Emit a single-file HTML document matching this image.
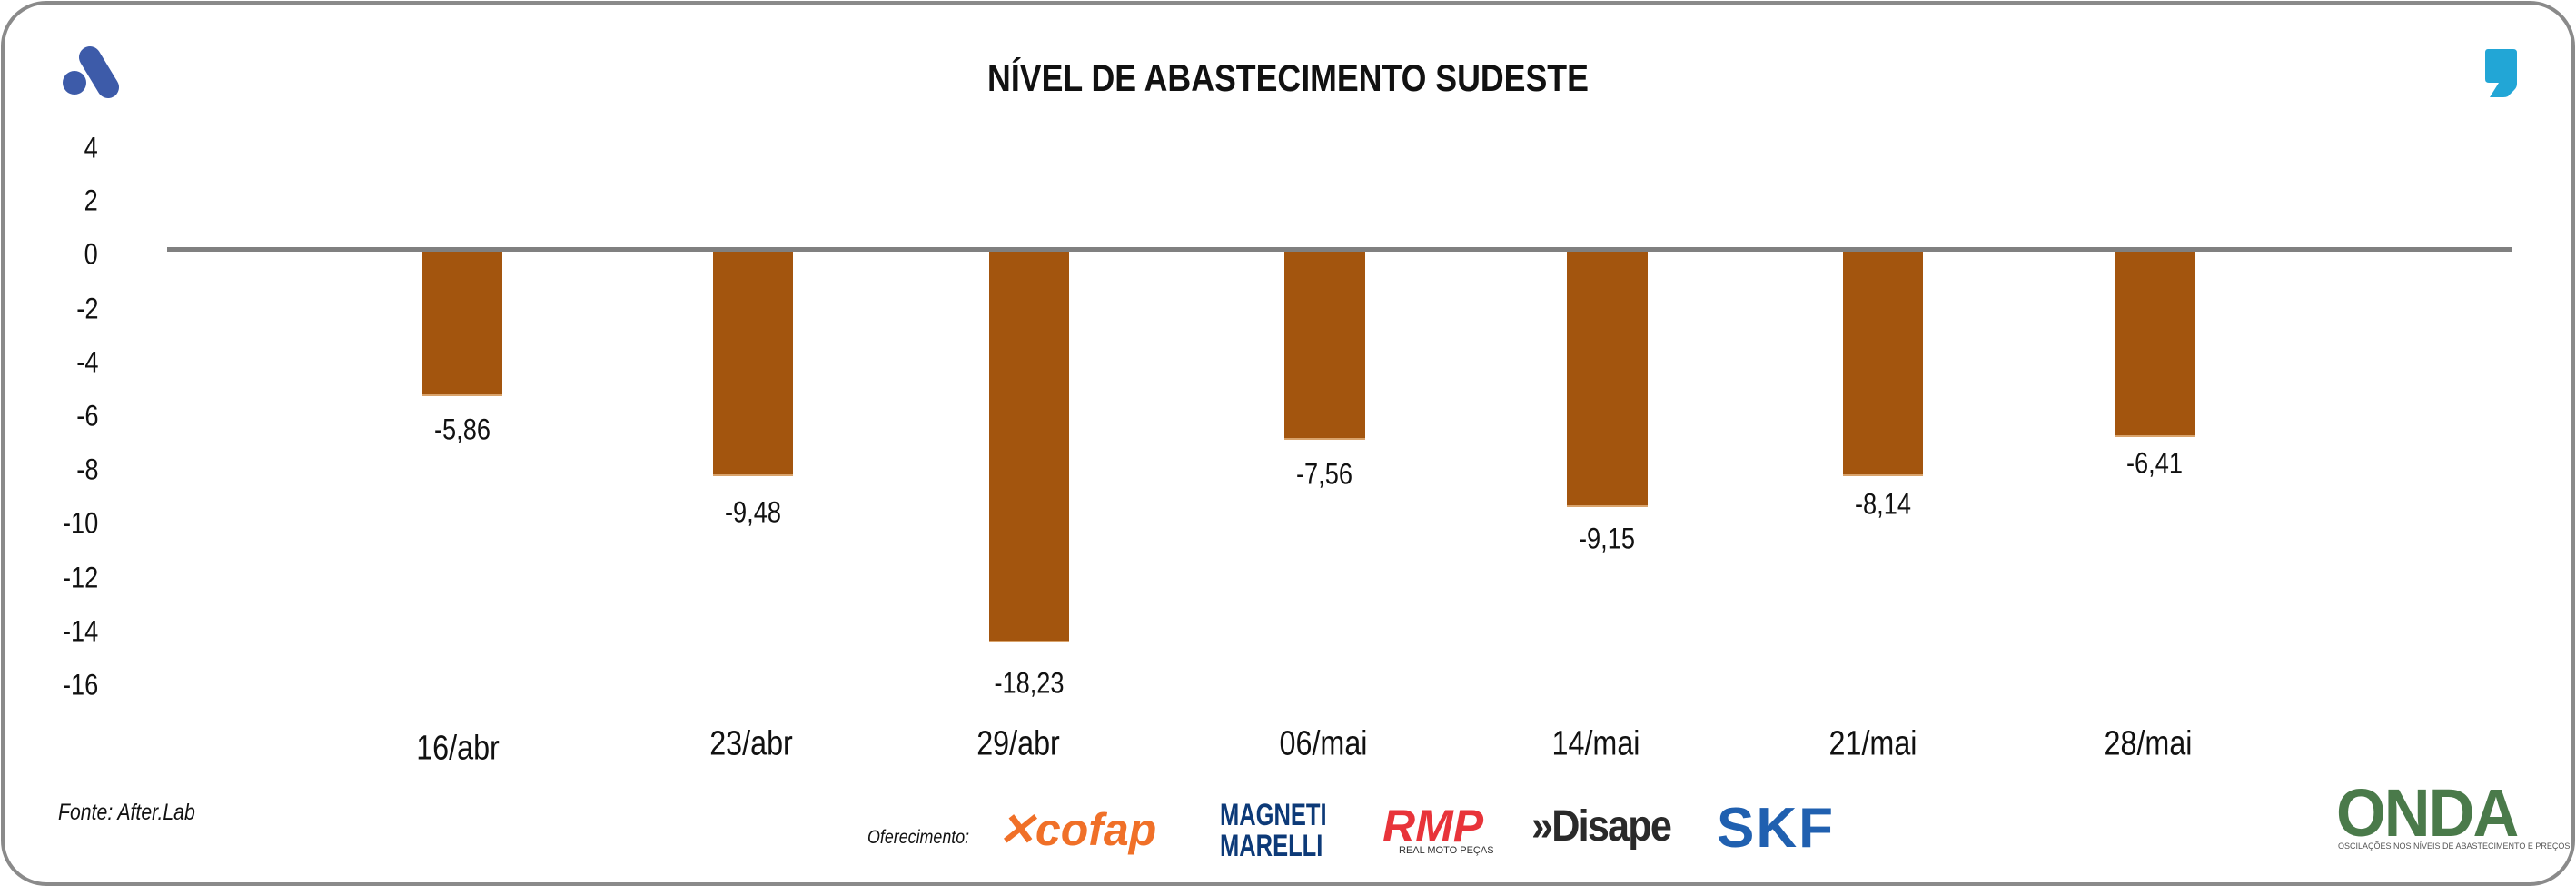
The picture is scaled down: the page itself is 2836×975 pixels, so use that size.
<!DOCTYPE html>
<html><head><meta charset="utf-8"><style>
html,body{margin:0;padding:0;background:#fff}
body{width:2836px;height:974px;position:relative;overflow:hidden;font-family:"Liberation Sans",sans-serif}
.frame{position:absolute;left:1px;top:1px;width:2826px;height:966px;border:4px solid #8a8a8a;border-radius:50px;box-sizing:content-box}
.t{position:absolute;white-space:nowrap;color:#111}
.yt{position:absolute;right:2728px;font-size:32px;transform:translateY(-50%) scaleX(0.85);transform-origin:right center;color:#111}
.xl{position:absolute;font-size:38px;transform:translate(-50%,-50%) scaleX(0.85);color:#111}
.dl{position:absolute;font-size:32px;transform:translate(-50%,-50%) scaleX(0.85);color:#111}
.bar{position:absolute;top:277px;background:#a3550e;border-bottom:2px solid #d9a36b}
</style></head><body>
<div class="frame"></div>
<svg style="position:absolute;left:0;top:0" width="2836" height="974">
<circle cx="82" cy="91" r="13" fill="#3d5ba9"/>
<line x1="99" y1="63" x2="119" y2="96" stroke="#3d5ba9" stroke-width="24" stroke-linecap="round"/>
<path d="M2739 54 H2767 Q2771 54 2771 58 V92 Q2771 96 2768 99 L2761 106 Q2759 107 2756 107 H2741 L2751 91 H2740 Q2736 91 2736 87 V58 Q2736 54 2739 54Z" fill="#22a6d6"/>
<rect x="184" y="272" width="2582" height="5" fill="#808080"/>
</svg>
<div class="t" style="left:0;width:2836px;text-align:center;top:62px;font-size:42px;font-weight:bold;transform:scaleX(0.85)">NÍVEL DE ABASTECIMENTO SUDESTE</div>
<div class="yt" style="top:163px">4</div>
<div class="yt" style="top:221px">2</div>
<div class="yt" style="top:280px">0</div>
<div class="yt" style="top:340px">-2</div>
<div class="yt" style="top:399px">-4</div>
<div class="yt" style="top:458px">-6</div>
<div class="yt" style="top:517px">-8</div>
<div class="yt" style="top:576px">-10</div>
<div class="yt" style="top:636px">-12</div>
<div class="yt" style="top:695px">-14</div>
<div class="yt" style="top:754px">-16</div>
<div class="bar" style="left:465px;width:88px;height:157px"></div>
<div class="bar" style="left:785px;width:88px;height:245px"></div>
<div class="bar" style="left:1089px;width:88px;height:428px"></div>
<div class="bar" style="left:1414px;width:89px;height:205px"></div>
<div class="bar" style="left:1725px;width:89px;height:279px"></div>
<div class="bar" style="left:2029px;width:88px;height:245px"></div>
<div class="bar" style="left:2328px;width:88px;height:202px"></div>
<div class="dl" style="left:509px;top:473px">-5,86</div>
<div class="dl" style="left:829px;top:564px">-9,48</div>
<div class="dl" style="left:1133px;top:752px">-18,23</div>
<div class="dl" style="left:1458px;top:522px">-7,56</div>
<div class="dl" style="left:1769px;top:593px">-9,15</div>
<div class="dl" style="left:2073px;top:555px">-8,14</div>
<div class="dl" style="left:2372px;top:510px">-6,41</div>
<div class="xl" style="left:504px;top:824px">16/abr</div>
<div class="xl" style="left:827px;top:819px">23/abr</div>
<div class="xl" style="left:1121px;top:819px">29/abr</div>
<div class="xl" style="left:1457px;top:819px">06/mai</div>
<div class="xl" style="left:1757px;top:819px">14/mai</div>
<div class="xl" style="left:2062px;top:819px">21/mai</div>
<div class="xl" style="left:2365px;top:819px">28/mai</div>
<div class="t" style="left:64px;top:880px;font-size:25px;font-style:italic;transform:scaleX(0.85);transform-origin:left">Fonte: After.Lab</div>
<div class="t" style="left:955px;top:910px;font-size:21px;font-style:italic;transform:scaleX(0.85);transform-origin:left">Oferecimento:</div>
<div class="t" style="left:1098px;top:884px;font-size:50px;font-weight:bold;font-style:italic;color:#f07028">✕cofap</div>
<div class="t" style="left:1343px;top:880px;font-size:34px;font-weight:bold;color:#0d3a78;line-height:34px;transform:scaleX(0.75);transform-origin:left">MAGNETI<br>MARELLI</div>
<div class="t" style="left:1522px;top:880px;font-size:50px;font-weight:bold;font-style:italic;color:#e8343a">RMP</div>
<div class="t" style="left:1540px;top:930px;font-size:11px;color:#333">REAL MOTO PEÇAS</div>
<div class="t" style="left:1686px;top:882px;font-size:48px;font-weight:bold;color:#2a2a2a;letter-spacing:-2px;transform:scaleX(0.9);transform-origin:left">»Disape</div>
<div class="t" style="left:1890px;top:876px;font-size:62px;font-weight:bold;color:#2060b0;letter-spacing:2px">SKF</div>
<div class="t" style="left:2572px;top:852px;font-size:74px;font-weight:bold;color:#4a7a4a;letter-spacing:-2px;transform:scaleX(0.95);transform-origin:left">ONDA</div>
<div class="t" style="left:2574px;top:926px;font-size:9px;color:#555">OSCILAÇÕES NOS NÍVEIS DE ABASTECIMENTO E PREÇOS</div>
</body></html>
